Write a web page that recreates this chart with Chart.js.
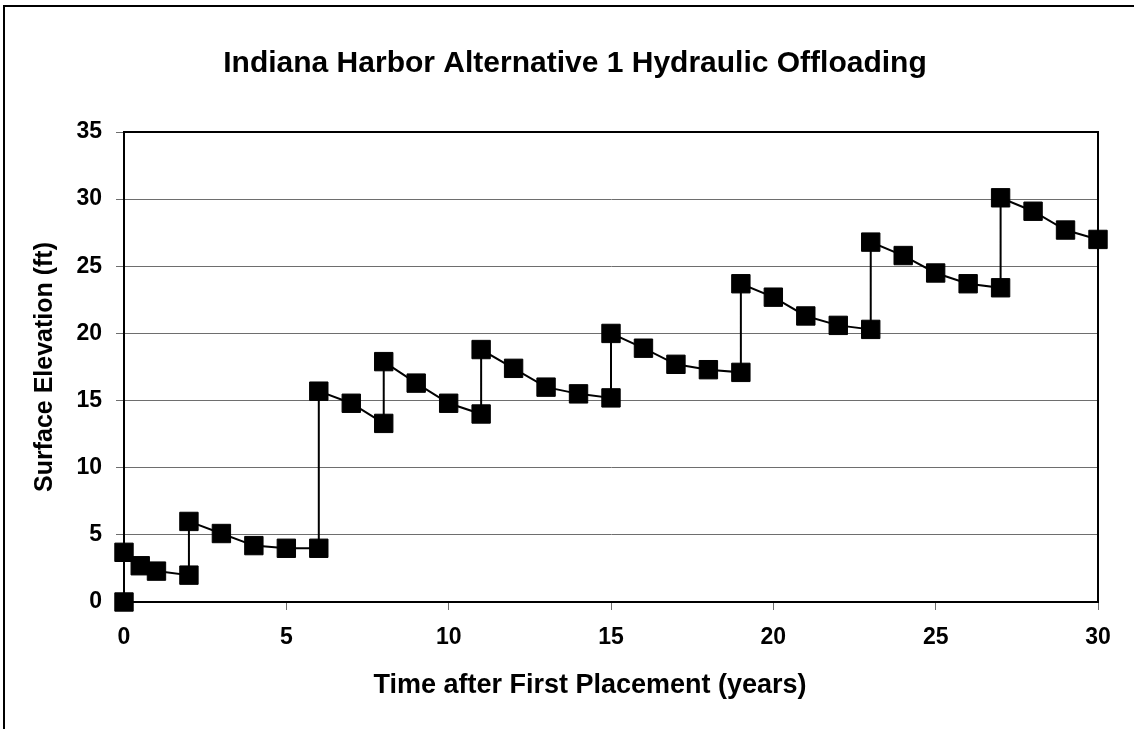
<!DOCTYPE html>
<html>
<head>
<meta charset="utf-8">
<script src="https://cdn.jsdelivr.net/npm/chart.js@4/dist/chart.umd.min.js"></script>
<style>
  html, body { margin:0; padding:0; background:#fff; overflow:hidden; }
  #wrap { position:relative; width:1134px; height:729px; }
  #frame { position:absolute; left:3px; top:5px; width:1200px; height:800px; border:2px solid #000; box-sizing:border-box; pointer-events:none; }
  canvas { position:absolute; left:0; top:0; }
</style>
</head>
<body>
<div id="wrap">
  <canvas id="chart" width="1134" height="729"></canvas>
  <div id="frame"></div>
</div>
<script>
'use strict';
// data (years after first placement, surface elevation ft)
var YEARS = [0, 0, 0.5, 1, 2, 2, 3, 4, 5, 6, 6, 7, 8, 8, 9, 10, 11, 11, 12, 13, 14, 15, 15,
             16, 17, 18, 19, 19, 20, 21, 22, 23, 23, 24, 25, 26, 27, 27, 28, 29, 30];
var ELEV  = [0, 3.7, 2.7, 2.3, 2.0, 6.0, 5.1, 4.2, 4.0, 4.0, 15.7, 14.8, 13.3, 17.9, 16.3, 14.8, 14.0, 18.8, 17.4, 16.0, 15.5, 15.2, 20.0,
             18.9, 17.7, 17.3, 17.1, 23.7, 22.7, 21.3, 20.6, 20.3, 26.8, 25.8, 24.5, 23.7, 23.4, 30.1, 29.1, 27.7, 27.0];
var TITLE   = 'Indiana Harbor Alternative 1 Hydraulic Offloading';
var X_TITLE = 'Time after First Placement (years)';
var Y_TITLE = 'Surface Elevation (ft)';

var FONT = "'Liberation Sans', Arial, sans-serif";
var GRID = '#6e6e6e';

var points = YEARS.map(function(x, i) { return {x: x, y: ELEV[i]}; });

// black frame round the plot area + x axis title (sits a bit left of centre in the original)
var boxPlugin = {
  id: 'plotBox',
  afterDraw: function(chart) {
    var a = chart.chartArea, ctx = chart.ctx;
    ctx.save();
    ctx.strokeStyle = '#000'; ctx.lineWidth = 2;
    ctx.strokeRect(a.left, a.top, a.right - a.left, a.bottom - a.top);
    ctx.fillStyle = '#000';
    ctx.font = 'bold 27px ' + FONT;
    ctx.textAlign = 'center'; ctx.textBaseline = 'middle';
    ctx.fillText(X_TITLE, (a.left + a.right) / 2 - 21, a.bottom + 84);
    ctx.restore();
  }
};

new Chart(document.getElementById('chart'), {
  type: 'scatter',
  data: {
    datasets: [{
      data: points,
      showLine: true,
      borderColor: '#000', borderWidth: 2,
      pointStyle: 'rect', pointRadius: 13, pointHoverRadius: 13,
      pointBackgroundColor: '#000', pointBorderColor: '#000', pointBorderWidth: 1,
      clip: false
    }]
  },
  plugins: [boxPlugin],
  options: {
    responsive: false, animation: false,
    layout: { padding: { left: 16, right: 0, top: 0, bottom: 0 } },
    plugins: {
      legend: { display: false },
      tooltip: { enabled: false },
      title: {
        display: true, text: TITLE, color: '#000',
        font: { family: FONT, size: 30, weight: 'bold' },
        padding: { top: 46, bottom: 50 }
      }
    },
    scales: {
      x: {
        type: 'linear', min: 0, max: 30,
        ticks: { stepSize: 5, color: '#000', padding: 14, font: { family: FONT, size: 23, weight: 'bold' } },
        grid: { drawOnChartArea: false, color: GRID, tickLength: 8 },
        border: { color: '#000', width: 2 },
        afterFit: function(s) { s.height = 127; }
      },
      y: {
        min: 0, max: 35,
        ticks: { stepSize: 5, color: '#000', padding: 14, font: { family: FONT, size: 23, weight: 'bold' } },
        grid: { color: GRID, lineWidth: 1, tickLength: 8 },
        border: { color: '#000', width: 2 },
        title: { display: true, text: Y_TITLE, color: '#000', font: { family: FONT, size: 25, weight: 'bold' }, padding: { top: 14, bottom: 0 } },
        afterFit: function(s) { s.width = 108; }
      },
      // empty right-hand strip, keeps the plot's right edge where the original has it
      yPad: {
        type: 'linear', position: 'right', display: true,
        ticks: { display: false }, grid: { display: false }, border: { display: false },
        afterFit: function(s) { s.width = 36; }
      }
    }
  }
});
</script>
</body>
</html>
